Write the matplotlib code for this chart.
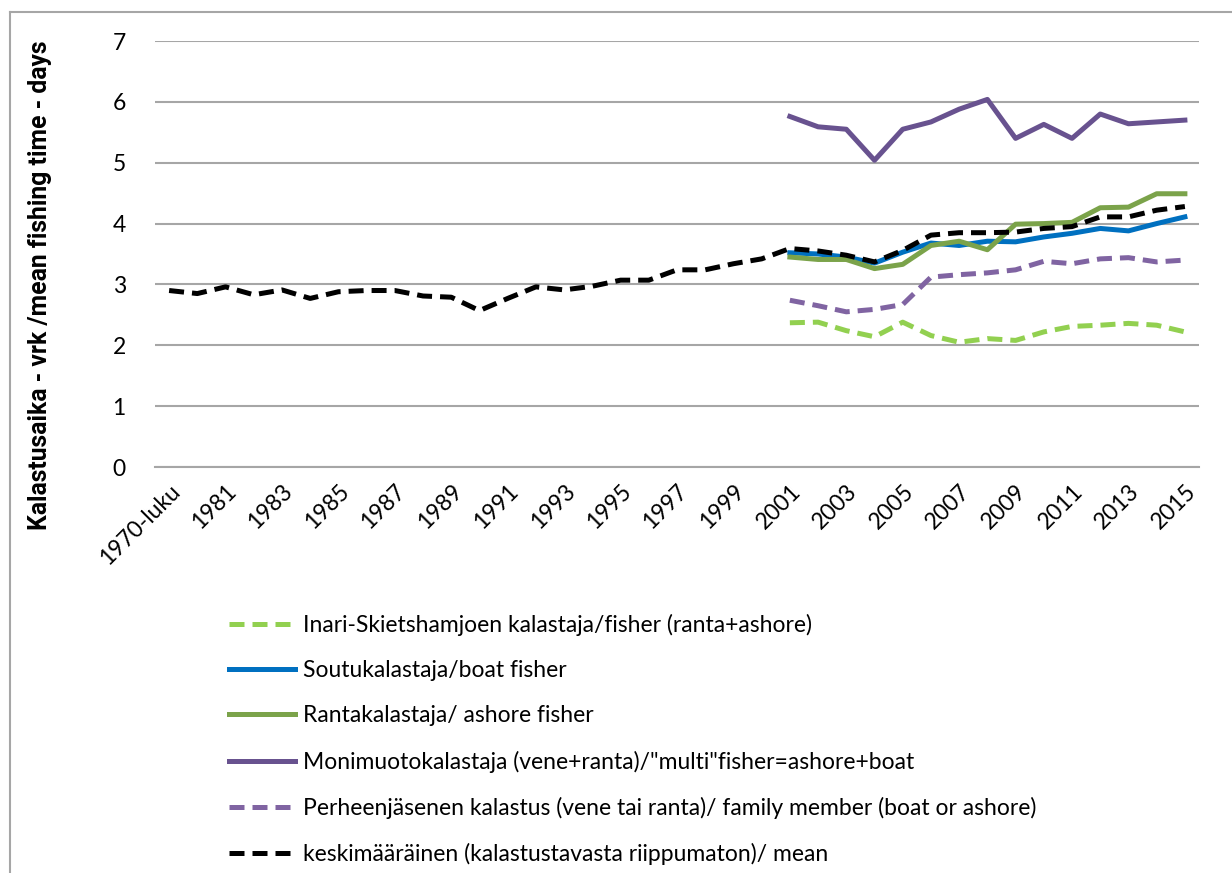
import matplotlib
matplotlib.use("Agg")
import matplotlib.pyplot as plt
from matplotlib.lines import Line2D

plt.rcParams["font.family"] = ["Lato", "DejaVu Sans"]

# categories on the x axis
categories = ["1970-luku"] + [str(y) for y in range(1980, 2016)]
recent_years = [str(y) for y in range(2001, 2016)]

# mean fishing time, all years
mean_all = [2.90, 2.85, 2.96, 2.83, 2.91, 2.77, 2.88, 2.90, 2.90, 2.81,
            2.79, 2.57, 2.77, 2.96, 2.91, 2.97, 3.07, 3.07, 3.24, 3.24,
            3.34, 3.42, 3.59, 3.55, 3.48, 3.37, 3.56, 3.81, 3.85, 3.85,
            3.86, 3.92, 3.95, 4.11, 4.11, 4.22, 4.28]

# 2001-2015 series
inari = [2.37, 2.38, 2.24, 2.14, 2.38, 2.16, 2.05, 2.11, 2.08, 2.22,
         2.31, 2.33, 2.36, 2.33, 2.22]
soutu = [3.52, 3.50, 3.45, 3.35, 3.53, 3.68, 3.64, 3.71, 3.70, 3.78,
         3.84, 3.92, 3.88, 4.00, 4.11]
ranta = [3.45, 3.41, 3.41, 3.26, 3.33, 3.64, 3.71, 3.57, 3.99, 4.00,
         4.02, 4.26, 4.27, 4.49, 4.49]
monimuoto = [5.76, 5.59, 5.55, 5.04, 5.55, 5.67, 5.88, 6.04, 5.40, 5.63,
             5.40, 5.80, 5.64, 5.67, 5.70]
perhe = [2.74, 2.65, 2.55, 2.59, 2.67, 3.12, 3.16, 3.19, 3.24, 3.38,
         3.34, 3.42, 3.44, 3.37, 3.40]

labels = [
    "Inari-Skietshamjoen kalastaja/fisher (ranta+ashore)",
    "Soutukalastaja/boat fisher",
    "Rantakalastaja/ ashore fisher",
    'Monimuotokalastaja (vene+ranta)/"multi"fisher=ashore+boat',
    "Perheenjäsenen kalastus (vene tai ranta)/ family member (boat or ashore)",
    "keskimääräinen (kalastustavasta riippumaton)/ mean",
]

W, H = 1232, 873
GRID = "#a6a6a6"
LW = 3.6
DASH = (0, (3, 1.6))

fig = plt.figure(figsize=(W / 100, H / 100), dpi=100)
ax = fig.add_axes([155 / W, 1 - 467 / H, (1199 - 155) / W, (467 - 41) / H])

# mean first so the categorical axis gets every category in order
ax.plot(categories, mean_all, color="black", lw=LW, ls=DASH, zorder=5)
ax.plot(recent_years, inari, color="#92d050", lw=LW, ls=DASH, zorder=3)
ax.plot(recent_years, soutu, color="#0070c0", lw=LW, zorder=3)
ax.plot(recent_years, ranta, color="#7ba34a", lw=LW, zorder=4)
ax.plot(recent_years, monimuoto, color="#68528f", lw=LW, zorder=3)
ax.plot(recent_years, perhe, color="#8064a2", lw=LW, ls=DASH, zorder=3)

ax.set_xlim(-0.5, len(categories) - 0.5)
ax.set_ylim(0, 7)
ax.set_yticks(range(0, 8))
ax.set_xticks(categories[::2])
ax.grid(axis="y", color=GRID, lw=1.5)
ax.set_axisbelow(True)
for s in ["top", "right", "left"]:
    ax.spines[s].set_visible(False)
ax.spines["bottom"].set_color(GRID)
ax.spines["bottom"].set_linewidth(1.5)
ax.tick_params(axis="both", length=0, labelsize=16.5)
ax.tick_params(axis="y", pad=21)
plt.setp(ax.get_xticklabels(), rotation=45, ha="right", va="top",
         rotation_mode="anchor")
ax.tick_params(axis="x", pad=10)

fig.text(40 / W, 1 - 285 / H, "Kalastusaika - vrk /mean fishing time - days",
         rotation=90, ha="center", va="center", fontsize=17.8,
         fontweight="bold", family=["Roboto", "DejaVu Sans"])

# legend below the plot
handles = [
    Line2D([], [], color="#92d050", lw=LW, ls=DASH),
    Line2D([], [], color="#0070c0", lw=LW),
    Line2D([], [], color="#7ba34a", lw=LW),
    Line2D([], [], color="#68528f", lw=LW),
    Line2D([], [], color="#8064a2", lw=LW, ls=DASH),
    Line2D([], [], color="black", lw=LW, ls=DASH),
]
fig.legend(handles, labels, loc="upper left",
           bbox_to_anchor=(208 / W, 1 - 593 / H), frameon=False,
           fontsize=16.5, handlelength=2.9, handletextpad=0.35,
           labelspacing=1.06)

# chart border (left and top edges visible)
fig.add_artist(Line2D([10 / W, 10 / W], [0, 1 - 12 / H], color=GRID, lw=1.5))
fig.add_artist(Line2D([10 / W, 1], [1 - 12 / H, 1 - 12 / H], color=GRID, lw=1.5))

fig.savefig("out.png", dpi=100)
